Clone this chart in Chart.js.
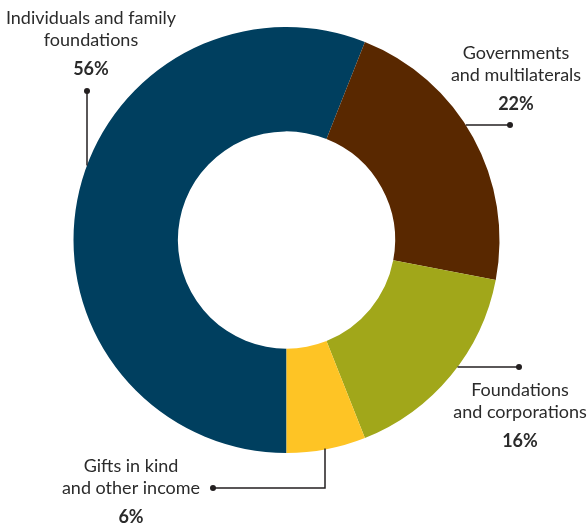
<!DOCTYPE html>
<html>
<head>
<meta charset="utf-8">
<script src="https://cdn.jsdelivr.net/npm/chart.js@4"></script>
<style>
  body { margin: 0; background: #fff; }
  #wrap { width: 587px; height: 525px; position: relative; }
</style>
</head>
<body>
<div id="wrap"><canvas id="chart"></canvas></div>
<script>
const categories = [
  "Individuals and family foundations",
  "Governments and multilaterals",
  "Foundations and corporations",
  "Gifts in kind and other income"
];
const shares = [56, 22, 16, 6];
const sliceColors = ["#003f5f", "#592800", "#a1a71a", "#fec425"];
const labelLines = [
  ["Individuals and family", "foundations"],
  ["Governments", "and multilaterals"],
  ["Foundations", "and corporations"],
  ["Gifts in kind", "and other income"]
];

// where each callout sits on the canvas (text centre + leader path)
const callouts = [
  { tx: 91, ty: 18, dot: [87, 91], path: "vArc" },
  { tx: 516, ty: 53, dot: [510, 125], path: "hArc" },
  { tx: 520, ty: 390, dot: [519, 367], path: "hArc" },
  { tx: 131, ty: 466, dot: [213, 488], path: "elbow", elbowX: 325 }
];

const calloutPlugin = {
  id: "callouts",
  afterDatasetsDraw(chart) {
    const ctx = chart.ctx;
    const arc = chart.getDatasetMeta(0).data[0];
    const cx = arc.x, cy = arc.y, r = arc.outerRadius;
    ctx.save();
    ctx.strokeStyle = "#231f20";
    ctx.fillStyle = "#231f20";
    ctx.lineWidth = 1.5;
    callouts.forEach((c, i) => {
      const [dx, dy] = c.dot;
      ctx.beginPath();
      if (c.path === "vArc") {
        const h = Math.sqrt(r * r - (dx - cx) * (dx - cx));
        ctx.moveTo(dx, dy);
        ctx.lineTo(dx, cy - h);
      } else if (c.path === "hArc") {
        const w = Math.sqrt(r * r - (dy - cy) * (dy - cy));
        ctx.moveTo(dx, dy);
        ctx.lineTo(cx + w, dy);
      } else {
        const h = Math.sqrt(r * r - (c.elbowX - cx) * (c.elbowX - cx));
        ctx.moveTo(dx, dy);
        ctx.lineTo(c.elbowX, dy);
        ctx.lineTo(c.elbowX, cy + h - 1);
      }
      ctx.stroke();
      ctx.fillStyle = "#231f20";
      ctx.beginPath();
      ctx.arc(dx, dy, 3, 0, Math.PI * 2);
      ctx.fill();

      ctx.textAlign = "center";
      ctx.textBaseline = "middle";
      ctx.fillStyle = "#2b2b2b";
      ctx.font = "18px Lato";
      labelLines[i].forEach((line, k) => {
        ctx.fillText(line, c.tx, c.ty + k * 22.5);
      });
      ctx.font = "bold 18px Lato";
      ctx.fillText(shares[i] + "%", c.tx, c.ty + 51);
    });
    ctx.restore();
  }
};

new Chart(document.getElementById("chart"), {
  type: "doughnut",
  data: {
    labels: categories,
    datasets: [{
      data: shares,
      backgroundColor: sliceColors,
      borderWidth: 0
    }]
  },
  options: {
    responsive: true,
    maintainAspectRatio: false,
    animation: false,
    rotation: 180,
    cutout: "51%",
    layout: { padding: { left: 73.5, right: 87.5, top: 27, bottom: 72 } },
    plugins: {
      legend: { display: false },
      tooltip: { enabled: false }
    }
  },
  plugins: [calloutPlugin]
});
</script>
</body>
</html>
